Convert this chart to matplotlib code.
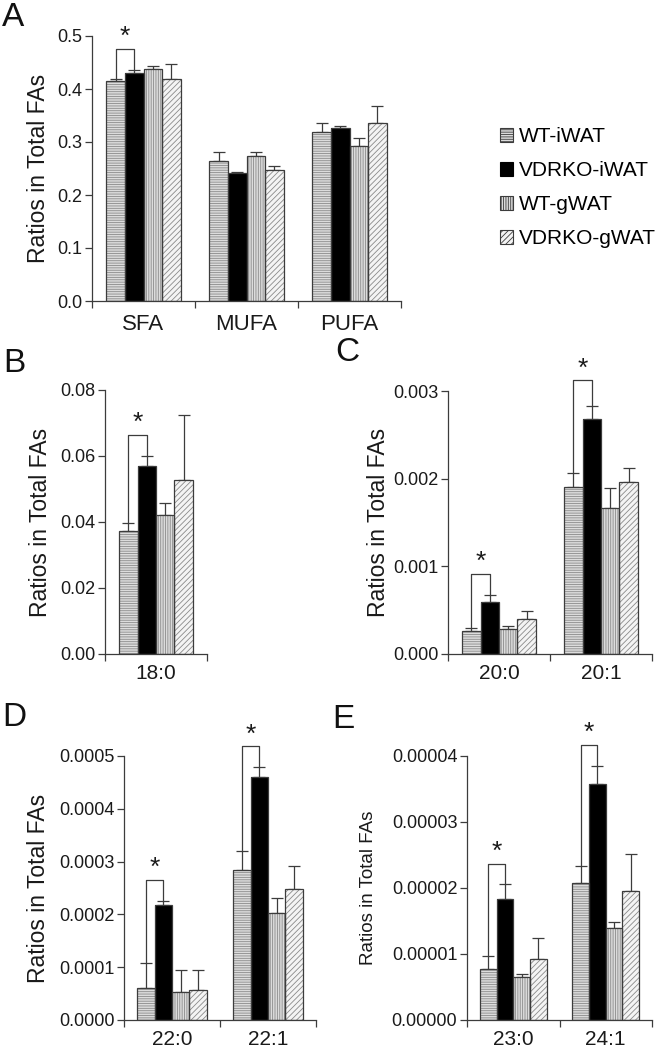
import matplotlib
matplotlib.use("Agg")
import matplotlib.pyplot as plt
from matplotlib.patches import Patch
from matplotlib.ticker import FormatStrFormatter
import numpy as np

plt.rcParams['font.family'] = ['Liberation Sans', 'DejaVu Sans']
plt.rcParams['hatch.linewidth'] = 0.6

groups = ['WT-iWAT', 'VDRKO-iWAT', 'WT-gWAT', 'VDRKO-gWAT']

# Panel A
a_cats = ['SFA', 'MUFA', 'PUFA']
a_wt_i = [0.416, 0.265, 0.318]
a_wt_i_err = [0.003, 0.016, 0.017]
a_ko_i = [0.431, 0.241, 0.327]
a_ko_i_err = [0.004, 0.002, 0.003]
a_wt_g = [0.437, 0.273, 0.292]
a_wt_g_err = [0.006, 0.009, 0.016]
a_ko_g = [0.418, 0.248, 0.335]
a_ko_g_err = [0.029, 0.006, 0.033]
a_sig = [0.475, None, None]

# Panel B
b_cats = ['18:0']
b_wt_i = [0.0372]
b_wt_i_err = [0.0024]
b_ko_i = [0.0570]
b_ko_i_err = [0.0030]
b_wt_g = [0.0420]
b_wt_g_err = [0.0037]
b_ko_g = [0.0527]
b_ko_g_err = [0.0197]
b_sig = [0.0663]

# Panel C
c_cats = ['20:0', '20:1']
c_wt_i = [0.000262, 0.00191]
c_wt_i_err = [0.00004, 0.00016]
c_ko_i = [0.000597, 0.00268]
c_ko_i_err = [0.000076, 0.00015]
c_wt_g = [0.000285, 0.00167]
c_wt_g_err = [0.000035, 0.00022]
c_ko_g = [0.000395, 0.00196]
c_ko_g_err = [0.000095, 0.00016]
c_sig = [0.000913, 0.00312]

# Panel D
d_cats = ['22:0', '22:1']
d_wt_i = [0.0000612, 0.000284]
d_wt_i_err = [0.0000474, 0.000037]
d_ko_i = [0.000218, 0.000460]
d_ko_i_err = [0.000008, 0.000019]
d_wt_g = [0.0000537, 0.000203]
d_wt_g_err = [0.000041, 0.000029]
d_ko_g = [0.0000568, 0.000249]
d_ko_g_err = [0.000038, 0.000043]
d_sig = [0.000266, 0.000518]

# Panel E
e_cats = ['23:0', '24:1']
e_wt_i = [7.8e-6, 2.07e-5]
e_wt_i_err = [1.95e-6, 2.7e-6]
e_ko_i = [1.83e-5, 3.57e-5]
e_ko_i_err = [2.3e-6, 2.8e-6]
e_wt_g = [6.5e-6, 1.39e-5]
e_wt_g_err = [0.5e-6, 1.0e-6]
e_ko_g = [9.2e-6, 1.95e-5]
e_ko_g_err = [3.2e-6, 5.6e-6]
e_sig = [2.36e-5, 4.17e-5]

faces = ['#dcdcdc', '#000000', '#dcdcdc', '#f4f4f4']
hatches = ['-------', None, '|||||||', '//////']
hatch_col = '#8a8a8a'
edge_col = '#3c3c3c'

W, H = 656, 1056
fig = plt.figure(figsize=(W / 100, H / 100), dpi=100)


def px_axes(l, r, t, b):
    return fig.add_axes([l / W, 1 - b / H, (r - l) / W, (b - t) / H])


def panel(ax, cats, series, errs, sig, ymax, step, dec, ylabel_fs, label_x,
          tick_fs=13, cat_fs=15, cat_pad=7):
    n = len(cats)
    bw = 0.18
    offs = np.array([-1.5, -0.5, 0.5, 1.5]) * bw
    centers = np.arange(n) + 0.5
    for k in range(4):
        x = centers + offs[k]
        ax.bar(x, series[k], width=bw, color=faces[k], hatch=hatches[k],
               edgecolor=hatch_col if hatches[k] else faces[k], linewidth=0, zorder=2)
        ax.bar(x, series[k], width=bw, fill=False, edgecolor=edge_col,
               linewidth=0.9, zorder=3)
        ax.errorbar(x, series[k], yerr=[np.zeros(n), errs[k]], fmt='none',
                    ecolor=edge_col, elinewidth=0.9, capsize=4.5, capthick=0.9,
                    zorder=1)
    for i in range(n):
        if sig[i] is None:
            continue
        x1 = centers[i] + offs[0]
        x2 = centers[i] + offs[1]
        y1 = series[0][i] + errs[0][i]
        y2 = series[1][i] + errs[1][i]
        ax.plot([x1, x1, x2, x2], [y1, sig[i], sig[i], y2], color=edge_col,
                lw=0.9, clip_on=False, zorder=4)
        ax.text((x1 + x2) / 2, sig[i], '*', ha='center', va='bottom',
                fontsize=19, color='#1a1a1a', clip_on=False)
    ax.set_xlim(0, n)
    ax.set_ylim(0, ymax)
    ax.set_xticks(np.arange(n + 1))
    ax.set_xticklabels([])
    ax.set_xticks(centers, minor=True)
    ax.set_xticklabels(cats, minor=True, fontsize=cat_fs, color='#1a1a1a')
    ax.tick_params(axis='x', which='minor', length=0, pad=cat_pad)
    ax.tick_params(axis='x', which='major', length=5, width=0.9, color=edge_col)
    ax.set_yticks(np.arange(0, ymax + step / 2, step))
    ax.yaxis.set_major_formatter(FormatStrFormatter('%.' + str(dec) + 'f'))
    ax.tick_params(axis='y', length=5, width=0.9, color=edge_col, pad=2,
                   labelsize=tick_fs, labelcolor='#1a1a1a')
    for s in ['top', 'right']:
        ax.spines[s].set_visible(False)
    for s in ['left', 'bottom']:
        ax.spines[s].set_color(edge_col)
        ax.spines[s].set_linewidth(0.9)
    ax.set_ylabel('Ratios in Total FAs', fontsize=ylabel_fs, color='#1a1a1a')
    l = ax.get_position().x0 * W
    w = ax.get_position().width * W
    ax.yaxis.set_label_coords((label_x - l) / w, 0.5)


axA = px_axes(92, 401, 36, 301)
panel(axA, a_cats, [a_wt_i, a_ko_i, a_wt_g, a_ko_g],
      [a_wt_i_err, a_ko_i_err, a_wt_g_err, a_ko_g_err], a_sig,
      0.5, 0.1, 1, 16.5, 50, cat_fs=16, cat_pad=9)

axB = px_axes(105, 207, 390, 654)
panel(axB, b_cats, [b_wt_i, b_ko_i, b_wt_g, b_ko_g],
      [b_wt_i_err, b_ko_i_err, b_wt_g_err, b_ko_g_err], b_sig,
      0.08, 0.02, 2, 16.5, 52)

axC = px_axes(448, 652, 391, 654)
panel(axC, c_cats, [c_wt_i, c_ko_i, c_wt_g, c_ko_g],
      [c_wt_i_err, c_ko_i_err, c_wt_g_err, c_ko_g_err], c_sig,
      0.003, 0.001, 3, 16.5, 390)

axD = px_axes(124, 316, 756, 1020)
panel(axD, d_cats, [d_wt_i, d_ko_i, d_wt_g, d_ko_g],
      [d_wt_i_err, d_ko_i_err, d_wt_g_err, d_ko_g_err], d_sig,
      0.0005, 0.0001, 4, 16.5, 50)

axE = px_axes(467, 652, 756, 1020)
panel(axE, e_cats, [e_wt_i, e_ko_i, e_wt_g, e_ko_g],
      [e_wt_i_err, e_ko_i_err, e_wt_g_err, e_ko_g_err], e_sig,
      0.00004, 0.00001, 5, 13.5, 377)

# Legend
handles = []
for k in range(4):
    handles.append(Patch(facecolor=faces[k], hatch=hatches[k],
                         edgecolor=edge_col if k != 1 else '#000000',
                         linewidth=0.8, label=groups[k]))
fig.legend(handles=handles, loc='upper left',
           bbox_to_anchor=(490 / W, 1 - 117 / H), frameon=False,
           fontsize=15, handlelength=0.6, handleheight=0.6,
           handletextpad=0.3, labelspacing=0.72, borderpad=0)

# Panel letters
for lab, x, y in [('A', 2, 2), ('B', 3, 348), ('C', 335, 337),
                  ('D', 2, 702), ('E', 332, 704)]:
    fig.text(x / W, 1 - y / H, lab, fontsize=24, ha='left', va='top',
             color='#111111')

fig.savefig('out.png', dpi=100)
